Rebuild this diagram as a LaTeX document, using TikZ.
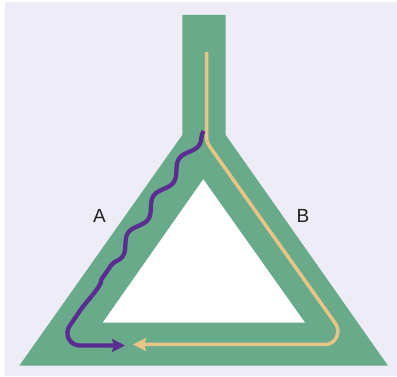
\documentclass[tikz,border=0pt]{standalone}
\usepackage{fontspec}
\setsansfont{Liberation Sans}
\usetikzlibrary{arrows.meta,decorations.pathmorphing}
\definecolor{bglavender}{RGB}{238,236,246}
\definecolor{tubegreen}{RGB}{104,170,138}
\definecolor{wavepurple}{RGB}{91,45,145}
\definecolor{flowyellow}{RGB}{232,196,135}
\definecolor{labelblack}{RGB}{35,31,32}

\begin{document}
\begin{tikzpicture}[
        x=1pt, y=-1pt,
        flow/.style={line width=#1, line cap=butt,
            -{Stealth[length=13pt, width=13pt, inset=2pt]}},
        sidelabel/.style={text=labelblack, font=\sffamily\fontsize{19}{19}\selectfont}
    ]
        \useasboundingbox (0,0) rectangle (397,377);
        \fill[bglavender] (5,2) rectangle (397,376);

        % tube and hole
        \fill[tubegreen] (182.3,15) -- (225.7,15) -- (225.7,135) -- (388,365.7)
            -- (19.3,365.7) -- (182.3,135) -- cycle;
        \fill[white] (203.3,179.3) -- (305,322.7) -- (102.7,322.7) -- cycle;

        \coordinate (ystart) at (206.5,52);
        \coordinate (ytip) at (133,344.5);
        \coordinate (pstart) at (203.5,131);
        \coordinate (pwave) at (101.5,279.3);
        \coordinate (ptip) at (125,345.5);

        \node[sidelabel] (A) at (99.5,216) {A};
        \node[sidelabel] (B) at (303,216) {B};

        % path B
        \draw[flow=3.5pt, flowyellow] (ystart) -- (206.5,132)
            .. controls (206.5,142) .. (212.3,150.2) -- (335.5,323.6)
            .. controls (341.6,332.3) and (335.6,344.5) .. (325,344.5) -- (ytip);
        % path A
        \draw[flow=4.3pt, wavepurple, decoration={snake, segment length=45pt, amplitude=4.5pt}]
            (pstart) decorate {-- (pwave)}
            .. controls (101.2,287.3) and (87.3,300.1) .. (80.5,310) -- (69.6,326)
            .. controls (63.9,334.2) and (69.8,345.5) .. (79.8,345.5) -- (ptip);
    \end{tikzpicture}
\end{document}
